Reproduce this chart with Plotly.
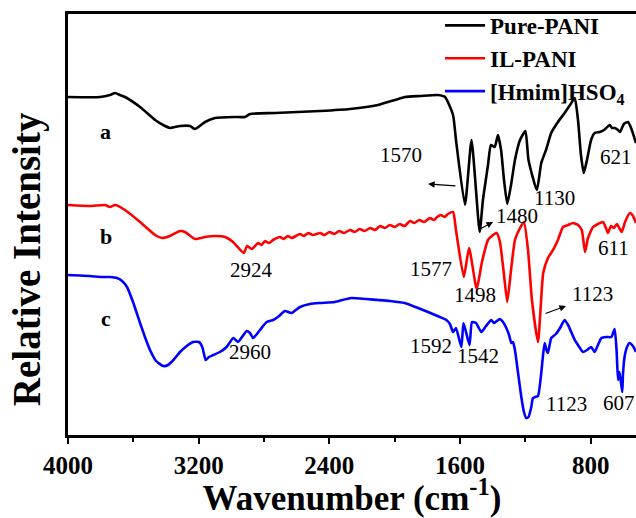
import plotly.graph_objects as go

# ---- FTIR spectra (wavenumber in cm-1, offset relative intensity) ----
wn_pani = [4000, 3804, 3743, 3712, 3682, 3651, 3559, 3467, 3406, 3376, 3314, 3253, 3223,
           3161, 3100, 2978, 2917, 2886, 2733, 2457, 2274, 2102, 1998, 1937, 1845, 1735,
           1692, 1643, 1625, 1570, 1530, 1480, 1460, 1429, 1411, 1388, 1368, 1349, 1331,
           1311, 1288, 1264, 1233, 1200, 1181, 1130, 1103, 1074, 1042, 1001, 960, 927, 898,
           878, 860, 843, 823, 798, 776, 745, 719, 684, 670, 654, 633, 621, 597, 572, 553, 523]
int_pani = [338, 338, 340, 342, 340, 338, 328, 315, 309, 307, 309, 309, 306,
            313, 317, 318, 318, 321, 322, 324, 326, 330, 335, 338, 339, 340,
            338, 320, 295, 230, 295, 203, 235, 270, 290, 288, 300, 285, 255,
            231, 250, 275, 295, 304, 275, 245, 272, 285, 302, 313, 322, 330, 337,
            315, 280, 262, 275, 295, 302, 303, 305, 310, 307, 307, 305, 303, 311, 313, 307, 292]

wn_il = [4000, 3865, 3774, 3743, 3712, 3651, 3559, 3467, 3425, 3376, 3314, 3284, 3223,
         3161, 3100, 3039, 2990, 2924, 2904, 2874, 2837, 2815, 2794, 2770, 2745, 2702,
         2680, 2655, 2630, 2580, 2555, 2530, 2500, 2457, 2430, 2400, 2370, 2340, 2310,
         2274, 2245, 2215, 2185, 2150, 2120, 2090, 2060, 2030, 2000, 1970, 1940, 1906,
         1880, 1850, 1820, 1784, 1760, 1740, 1717, 1695, 1674, 1643, 1625, 1577, 1545,
         1498, 1466, 1429, 1398, 1376, 1356, 1331, 1311, 1288, 1264, 1233, 1209, 1184,
         1160, 1123, 1091, 1062, 1031, 1001, 970, 939, 909, 878, 855, 835, 817, 786,
         756, 725, 707, 695, 676, 658, 640, 611, 590, 560, 541, 523]
int_il = [230, 229, 230, 228, 230, 225, 213, 200, 197, 199, 204, 203, 196,
          198, 199, 198, 193, 182, 189, 186, 192, 190, 194, 192, 195, 198,
          196, 199, 197, 201, 199, 202, 200, 202, 200, 203, 201, 204, 202,
          205, 203, 206, 204, 207, 205, 209, 207, 210, 208, 211, 209, 214,
          212, 215, 213, 217, 215, 218, 220, 218, 221, 223, 205, 158, 187,
          146, 173, 195, 200, 202, 193, 160, 133, 165, 195, 207, 213, 185,
          135, 93, 162, 177, 185, 195, 208, 210, 212, 210, 205, 183, 197, 208,
          211, 213, 207, 202, 209, 207, 211, 203, 213, 222, 219, 212]

wn_il_only = [4000, 3865, 3804, 3743, 3700, 3669, 3639, 3602, 3559, 3529, 3498, 3461, 3417,
              3388, 3355, 3314, 3273, 3235, 3198, 3178, 3157, 3137, 3111, 3070, 3029, 2988,
              2960, 2906, 2886, 2866, 2825, 2784, 2743, 2708, 2672, 2631, 2580, 2519, 2457,
              2367, 2266, 2102, 2029, 1939, 1857, 1796, 1723, 1684, 1662, 1643, 1625, 1592,
              1579, 1542, 1527, 1502, 1470, 1441, 1409, 1392, 1357, 1337, 1317, 1300, 1286,
              1276, 1264, 1245, 1225, 1209, 1195, 1181, 1164, 1154, 1140, 1123, 1103, 1092,
              1082, 1071, 1062, 1042, 1013, 988, 960, 939, 898, 878, 847, 823, 797, 776,
              756, 735, 707, 674, 654, 642, 633, 624, 607, 603, 593, 578, 562, 542, 523]
int_il_only = [160, 159, 158, 158, 157, 154, 148, 133, 112, 98, 85, 74, 69,
               70, 75, 83, 89, 93, 93, 88, 75, 78, 80, 83, 88, 97,
               93, 104, 102, 97, 105, 113, 115, 119, 124, 122, 128, 131, 132,
               133, 137, 135, 134, 132, 127, 123, 118, 115, 111, 103, 107, 88,
               112, 90, 113, 112, 103, 109, 115, 112, 116, 113, 107, 100, 92,
               93, 85, 62, 38, 23, 17, 18, 28, 37, 38, 39, 62, 80,
               92, 85, 82, 97, 101, 107, 115, 110, 95, 90, 83, 85, 88, 83,
               90, 97, 98, 98, 106, 85, 55, 63, 43, 60, 78, 88, 92, 89, 83]

series_names = ["Pure-PANI", "IL-PANI", "[Hmim]HSO<sub>4</sub>"]
series_colors = ["#000000", "#ff0000", "#0000ff"]

x_ticks = [4000, 3200, 2400, 1600, 800]
x_minor = [3600, 2800, 2000, 1200]

FONT = "Liberation Serif"

fig = go.Figure()
for xs, ys, name, col in zip([wn_pani, wn_il, wn_il_only], [int_pani, int_il, int_il_only],
                             series_names, series_colors):
    fig.add_trace(go.Scatter(x=xs, y=ys, mode="lines", name="<b>%s</b>" % name,
                             line=dict(color=col, width=2.6, shape="spline", smoothing=0.5)))

# peak labels: (text, x, y)
peak_labels = [
    ("1570", 1962, 280), ("1480", 1251, 219), ("1130", 1019, 237), ("621", 645, 278),
    ("2924", 2874, 165), ("1577", 1778, 166), ("1498", 1509, 140), ("1123", 792, 141),
    ("611", 658, 187), ("2960", 2886, 83), ("1592", 1778, 89), ("1542", 1490, 79),
    ("1123", 951, 31), ("607", 627, 32),
]
for txt, x, y in peak_labels:
    fig.add_annotation(x=x, y=y, text=txt, showarrow=False,
                       font=dict(family=FONT, size=21, color="#000"))

for txt, y in [("a", 304), ("b", 199), ("c", 117)]:
    fig.add_annotation(x=3770, y=y, text="<b>%s</b>" % txt, showarrow=False,
                       font=dict(family=FONT, size=22, color="#000"))

# arrows: (head x, head y, tail x, tail y)
arrows = [(1796, 251, 1619, 249), (1398, 213, 1490, 205), (951, 129, 1086, 121)]
for hx, hy, tx, ty in arrows:
    fig.add_annotation(x=hx, y=hy, ax=tx, ay=ty, xref="x", yref="y", axref="x", ayref="y",
                       text="", showarrow=True, arrowhead=2, arrowsize=1.2,
                       arrowwidth=1.1, arrowcolor="#000")

# y-axis title, set slightly below the plot centre
fig.add_annotation(xref="paper", yref="paper", x=-0.072, y=0.418, xanchor="center",
                   yanchor="middle", textangle=-90, showarrow=False,
                   text="<b>Relative Intensity</b>",
                   font=dict(family=FONT, size=39, color="#000"))

fig.update_layout(
    width=636, height=518,
    margin=dict(l=68, r=0, t=14, b=83),
    plot_bgcolor="white", paper_bgcolor="white",
    font=dict(family=FONT, color="#000"),
    showlegend=True,
    legend=dict(x=0.655, y=1.024, xanchor="left", yanchor="top",
                bgcolor="rgba(0,0,0,0)", borderwidth=0,
                font=dict(family=FONT, size=23, color="#000"),
                tracegroupgap=0, itemwidth=40),
)
fig.update_xaxes(
    range=[4000, 523], tickvals=x_ticks, ticktext=["<b>%d</b>" % v for v in x_ticks],
    ticks="outside", ticklen=6, tickwidth=2, tickcolor="#000",
    minor=dict(tickvals=x_minor, ticks="outside", ticklen=4,
               tickwidth=2, tickcolor="#000"),
    showline=True, linecolor="#000", linewidth=2.5, mirror=True,
    showgrid=False, zeroline=False,
    tickfont=dict(family=FONT, size=25, color="#000"),
    title=dict(text="<b>Wavenumber (cm<sup>-1</sup>)</b>", standoff=14,
               font=dict(family=FONT, size=35, color="#000")),
)
fig.update_yaxes(
    range=[0, 421], showticklabels=False, ticks="",
    showline=True, linecolor="#000", linewidth=2.5, mirror=False,
    showgrid=False, zeroline=False,
)

fig.write_html("out.html")
